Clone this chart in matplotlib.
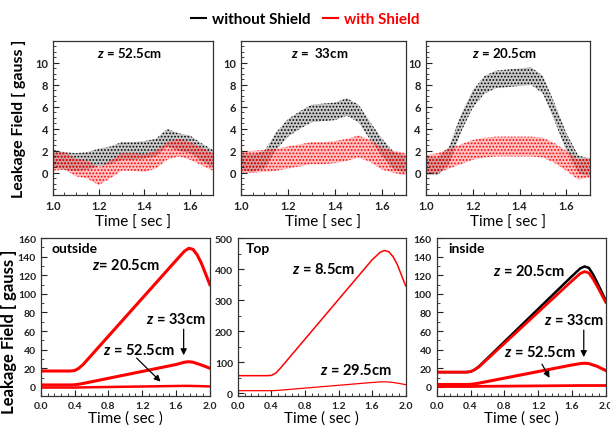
import matplotlib
matplotlib.use("Agg")
import matplotlib.pyplot as plt
from matplotlib.lines import Line2D
from matplotlib.ticker import AutoMinorLocator, FormatStrFormatter, MultipleLocator
import numpy as np

plt.rcParams['font.family'] = ['Lato', 'DejaVu Sans']
plt.rcParams['font.weight'] = 'bold'
plt.rcParams['mathtext.fontset'] = 'custom'
plt.rcParams['mathtext.it'] = 'Lato:italic:bold'
plt.rcParams['hatch.linewidth'] = 0.8

t_scan = [1.0, 1.05, 1.1, 1.15, 1.2, 1.25, 1.3, 1.35, 1.4, 1.45, 1.5, 1.55, 1.6, 1.65, 1.7]
scan_titles = ["$z$ = 52.5cm", "$z$ =  33cm", "$z$ = 20.5cm"]
no_shield = [
    [1.3, 1.1, 1.0, 1.1, 1.4, 1.6, 2.0, 2.0, 2.1, 2.3, 3.2, 2.8, 2.6, 1.9, 1.3],
    [1.0, 0.9, 1.2, 2.9, 4.1, 4.8, 5.4, 5.5, 5.6, 6.0, 5.4, 3.8, 2.3, 1.1, 0.8],
    [0.7, 0.6, 1.6, 4.5, 6.7, 8.0, 8.5, 8.6, 8.7, 8.8, 8.0, 5.5, 2.8, 0.8, 0.5],
]
with_shield = [
    [1.0, 1.1, 0.5, 0.3, -0.3, 0.3, 1.0, 1.0, 0.9, 1.2, 2.0, 2.3, 2.0, 1.5, 1.0],
    [1.0, 1.0, 1.1, 1.2, 1.4, 1.6, 1.8, 1.8, 1.9, 2.1, 2.4, 2.0, 1.3, 1.0, 0.8],
    [0.7, 0.9, 1.3, 1.7, 2.1, 2.3, 2.4, 2.4, 2.4, 2.4, 2.3, 1.8, 1.1, 0.3, 0.5],
]
spread_no = [0.8, 0.8, 0.8]
spread_with = [0.8, 1.0, 0.9]

# --- bottom row: ramp measurements
t_ramp = [0.0, 0.35, 0.4, 0.45, 0.5, 1.6, 1.7, 1.75, 1.8, 1.85, 1.9, 2.0]
outside_205 = [17, 17, 17.5, 20, 24, 136, 146, 149, 148, 142, 133, 110]
outside_33 = [2, 2, 2.2, 2.8, 3.6, 24, 26.5, 27, 26.5, 25, 23.5, 20]
outside_525 = [-0.8, -0.8, -0.8, -0.7, -0.6, 0.9, 1.0, 1.0, 0.9, 0.8, 0.7, 0.4]
top_85 = [56, 56, 57, 64, 78, 430, 455, 460, 456, 440, 415, 346]
top_295 = [7.5, 7.5, 7.6, 8, 9, 34, 36, 36, 35.5, 34, 32, 27]
inside_205_no = [15.8, 15.8, 16.3, 18.5, 22, 119, 127.5, 129.5, 128, 121, 112, 93]
inside_205 = [15.8, 15.8, 16.3, 18.5, 21.5, 114, 122, 124, 122.5, 116, 108, 91]
inside_33 = [2.5, 2.5, 2.7, 3.2, 4, 23.5, 25, 25.4, 25, 23.5, 22, 17.5]
inside_525 = [0.3, 0.3, 0.3, 0.4, 0.5, 1.3, 1.4, 1.4, 1.4, 1.4, 1.4, 1.4]

fig = plt.figure(figsize=(6.1, 4.27), dpi=100)
fig.patch.set_facecolor('white')

top_pos = [[0.087, 0.541, 0.262, 0.361],
           [0.395, 0.541, 0.270, 0.361],
           [0.698, 0.541, 0.269, 0.361]]
bot_pos = [[0.067, 0.070, 0.277, 0.370],
           [0.390, 0.070, 0.275, 0.370],
           [0.716, 0.070, 0.277, 0.370]]


def style(ax, size):
    for s in ax.spines.values():
        s.set_color('#333333')
        s.set_linewidth(0.9)
    ax.tick_params(which='both', direction='in', labelsize=size, colors='#222222')
    ax.tick_params(which='major', length=4)
    ax.tick_params(which='minor', length=2)


for i in range(3):
    ax = fig.add_axes(top_pos[i])
    t = np.array(t_scan)
    c = np.array(no_shield[i])
    ax.fill_between(t, c - spread_no[i], c + spread_no[i], facecolor=(0.3, 0.3, 0.3, 0.3),
                    edgecolor='black', hatch='.....', linewidth=0)
    c = np.array(with_shield[i])
    ax.fill_between(t, c - spread_with[i], c + spread_with[i], facecolor=(1, 0.2, 0.2, 0.3),
                    edgecolor='red', hatch='.....', linewidth=0)
    ax.set_xlim(1.0, 1.7)
    ax.set_ylim(-2, 12)
    ax.xaxis.set_major_locator(MultipleLocator(0.2))
    ax.xaxis.set_major_formatter(FormatStrFormatter('%.1f'))
    ax.xaxis.set_minor_locator(AutoMinorLocator(4))
    ax.set_yticks([0, 2, 4, 6, 8, 10])
    ax.yaxis.set_minor_locator(AutoMinorLocator(4))
    style(ax, 8)
    ax.text(0.48, 0.93, scan_titles[i], transform=ax.transAxes, ha='center', va='center', fontsize=9.5)
    ax.set_xlabel("Time [ sec ]", fontsize=11, labelpad=3)

fig.text(0.031, 0.721, "Leakage Field [ gauss ]", rotation=90, ha='center', va='center', fontsize=11.5)
fig.text(0.014, 0.224, "Leakage Field [ gauss ]", rotation=90, ha='center', va='center', fontsize=12)

arrow = dict(arrowstyle='-|>', color='black', lw=0.9, mutation_scale=9)

# outside
ax = fig.add_axes(bot_pos[0])
ax.plot(t_ramp, outside_205, color='red', lw=2.2)
ax.plot(t_ramp, outside_33, color='red', lw=2.2)
ax.plot(t_ramp, outside_525, color='red', lw=1.8)
ax.set_ylim(-10, 160)
ax.set_yticks(range(0, 161, 20))
ax.text(0.13, 149, "outside", fontsize=10, va='center')
ax.text(0.6, 132, "$z$= 20.5cm", fontsize=10.5, va='center')
ax.text(1.25, 74, "$z$ = 33cm", fontsize=10.5, va='center')
ax.text(0.74, 40, "$z$ = 52.5cm", fontsize=10.5, va='center')
ax.annotate('', xy=(1.69, 31), xytext=(1.69, 65), arrowprops=arrow)
ax.annotate('', xy=(1.44, 3.5), xytext=(1.11, 33), arrowprops=arrow)

# top
ax = fig.add_axes(bot_pos[1])
ax.plot(t_ramp, top_85, color='red', lw=1.1)
ax.plot(t_ramp, top_295, color='red', lw=0.9)
ax.set_ylim(-10, 500)
ax.set_yticks(range(0, 501, 100))
ax.text(0.09, 468, "Top", fontsize=10, va='center')
ax.text(0.65, 403, "$z$ = 8.5cm", fontsize=10.5, va='center')
ax.text(0.98, 75, "$z$ = 29.5cm", fontsize=10.5, va='center')

# inside
ax = fig.add_axes(bot_pos[2])
ax.plot(t_ramp, inside_205_no, color='black', lw=1.8)
ax.plot(t_ramp, inside_205, color='red', lw=2.0)
ax.plot(t_ramp, inside_33, color='red', lw=2.2)
ax.plot(t_ramp, inside_525, color='red', lw=2.0)
ax.set_ylim(-10, 160)
ax.set_yticks(range(0, 161, 20))
ax.text(0.14, 149, "inside", fontsize=10, va='center')
ax.text(0.66, 125, "$z$ = 20.5cm", fontsize=10.5, va='center')
ax.text(1.27, 72, "$z$ = 33cm", fontsize=10.5, va='center')
ax.text(0.8, 38, "$z$ = 52.5cm", fontsize=10.5, va='center')
ax.annotate('', xy=(1.74, 29), xytext=(1.74, 64), arrowprops=arrow)
ax.annotate('', xy=(1.35, 7), xytext=(1.23, 27), arrowprops=arrow)

for ax in fig.axes[3:]:
    ax.set_xlim(0, 2.0)
    ax.set_xticks([0.0, 0.4, 0.8, 1.2, 1.6, 2.0])
    ax.xaxis.set_major_formatter(FormatStrFormatter('%.1f'))
    ax.xaxis.set_minor_locator(AutoMinorLocator(5))
    ax.yaxis.set_minor_locator(AutoMinorLocator(2))
    style(ax, 7.5)
    ax.set_xlabel("Time ( sec )", fontsize=11, labelpad=0)

handles = [Line2D([], [], color='black', lw=1.5), Line2D([], [], color='red', lw=1.5)]
fig.legend(handles, ["without Shield", "with Shield"], loc='center', bbox_to_anchor=(0.5, 0.953),
           ncol=2, frameon=False, handlelength=1.0, handletextpad=0.4, columnspacing=0.8,
           labelcolor=['black', 'red'], prop={'weight': 'bold', 'size': 11})

fig.savefig("out.png", dpi=100, facecolor='white')
